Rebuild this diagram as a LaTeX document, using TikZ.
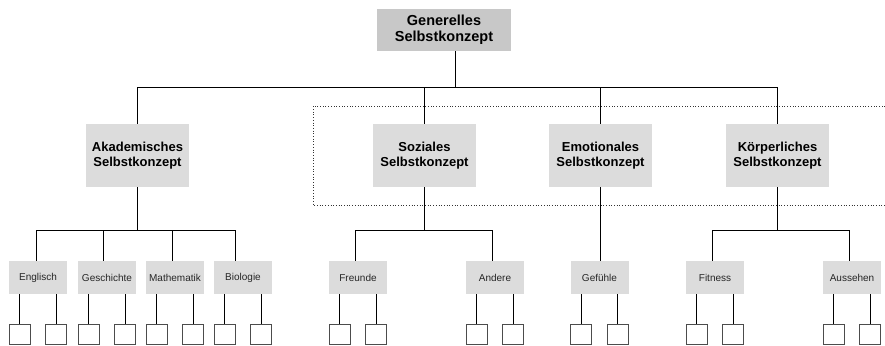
\documentclass[tikz,border=0pt]{standalone}
\usepackage{fontspec}
\setmainfont{Liberation Sans}
\usetikzlibrary{calc}
\definecolor{topfill}{HTML}{C8C8C8}
\definecolor{boxfill}{HTML}{DCDCDC}
\begin{document}
\begin{tikzpicture}[x=1pt,y=-1pt,
  conn/.style={draw=black,line width=0.9pt},
  topbox/.style={fill=topfill,minimum width=134pt,minimum height=42pt,inner sep=0pt,align=center,
    font=\bfseries\fontsize{14.5}{16}\selectfont},
  lvlone/.style={fill=boxfill,minimum width=103pt,minimum height=63pt,inner sep=0pt,align=center,
    font=\bfseries\fontsize{13}{15}\selectfont},
  lvltwo/.style={fill=boxfill,minimum width=58pt,minimum height=33pt,inner sep=0pt,
    text=black!85,font=\fontsize{10}{12}\selectfont},
  leafbox/.style={draw=black!70,line width=0.8pt,fill=white,minimum width=21pt,minimum height=20pt,inner sep=0pt},
  frame/.style={draw=black!80,dotted,line width=0.7pt}]
\useasboundingbox (0,0) rectangle (885,345);

% dotted frame (open on the right)
\draw[frame] (885,106) -- (313,106) -- (313,205) -- (885,205);

% top
\node[topbox] (top) at (444,30) {Generelles\\Selbstkonzept};

% level one
\node[lvlone] (akad) at (137.5,155.5) {Akademisches\\Selbstkonzept};
\node[lvlone] (soz) at (424.5,155.5) {Soziales\\Selbstkonzept};
\node[lvlone] (emo) at (600.5,155.5) {Emotionales\\Selbstkonzept};
\node[lvlone] (koe) at (777.5,155.5) {Körperliches\\Selbstkonzept};

% top bus
\coordinate (j0) at (455,87);
\draw[conn] (j0 |- top.south) -- (j0);
\draw[conn] (akad.north) -- (akad.north |- j0) -- (koe.north |- j0) -- (koe.north);
\draw[conn] (soz.north) -- (soz.north |- j0);
\draw[conn] (emo.north) -- (emo.north |- j0);

% level two
\foreach \n/\x/\t in {eng/38/Englisch, ges/107/Geschichte, mat/175/Mathematik, bio/243/Biologie,
  fre/358/Freunde, and/495/Andere, gef/599.5/Gefühle, fit/715/Fitness, aus/852/Aussehen}{
  \node[lvltwo] (\n) at (\x,277.5) {\t};
  \node[leafbox] (\n-a) at ($(\n.south)+(-18.25,40)$) {};
  \node[leafbox] (\n-b) at ($(\n.south)+(18.25,40)$) {};
  \draw[conn] (\n-a.north) -- (\n-a.north |- \n.south);
  \draw[conn] (\n-b.north) -- (\n-b.north |- \n.south);
}

% second-level buses
\coordinate (d1) at (36,230);
\coordinate (d2) at (103,230);
\coordinate (d3) at (172,230);
\coordinate (d4) at (235,230);
\draw[conn] (akad.south) -- (akad.south |- d1);
\draw[conn] (eng.north -| d1) -- (d1) -- (d4) -- (bio.north -| d4);
\draw[conn] (d2) -- (ges.north -| d2);
\draw[conn] (d3) -- (mat.north -| d3);

\coordinate (s1) at (355,230);
\coordinate (s2) at (492,230);
\draw[conn] (soz.south) -- (soz.south |- s1);
\draw[conn] (fre.north -| s1) -- (s1) -- (s2) -- (and.north -| s2);

\draw[conn] (emo.south) -- (emo.south |- gef.north);

\coordinate (k1) at (712,230);
\coordinate (k2) at (849,230);
\draw[conn] (koe.south) -- (koe.south |- k1);
\draw[conn] (fit.north -| k1) -- (k1) -- (k2) -- (aus.north -| k2);
\end{tikzpicture}
\end{document}
